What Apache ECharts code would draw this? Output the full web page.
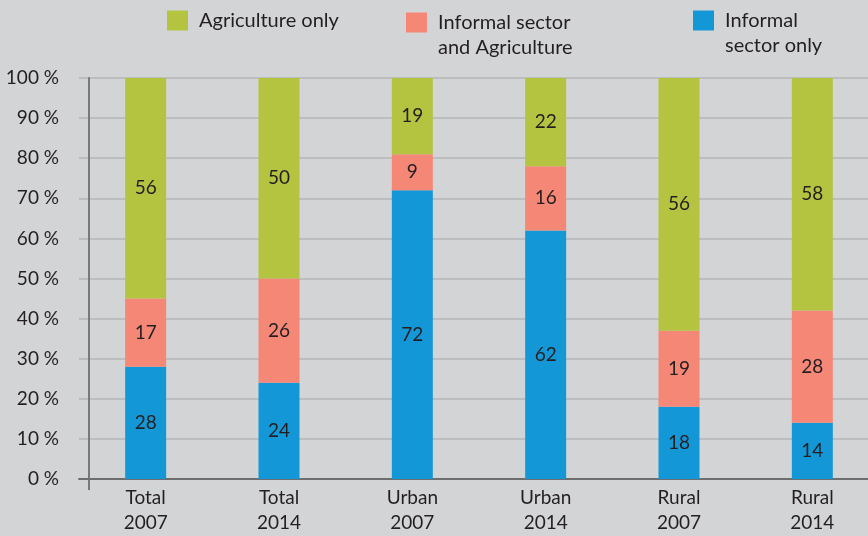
<!DOCTYPE html>
<html>
<head>
<meta charset="utf-8">
<script src="https://cdn.jsdelivr.net/npm/echarts@6/dist/echarts.min.js"></script>
<style>
  html, body { margin: 0; padding: 0; background: #d3d4d6; }
  #chart { width: 868px; height: 536px; }
</style>
</head>
<body>
<div id="chart"></div>
<script>
// categories (two-line labels)
const categories = ["Total\n2007", "Total\n2014", "Urban\n2007", "Urban\n2014", "Rural\n2007", "Rural\n2014"];

// printed values (%)
const informalOnly = [28, 24, 72, 62, 18, 14];
const informalAgri = [17, 26, 9, 16, 19, 28];
const agricultureOnly = [56, 50, 19, 22, 56, 58];
// green segment as drawn (each bar is filled up to 100 %)
const agricultureBar = [55, 50, 19, 22, 63, 58];

const yTicks = [0, 10, 20, 30, 40, 50, 60, 70, 80, 90, 100];

const textColor = "#231f20";
const font = "Lato";

const chart = echarts.init(document.getElementById("chart"));

const segLabel = (values) => ({
  show: true,
  position: "inside",
  color: textColor,
  fontFamily: font,
  fontSize: 19,
  formatter: (p) => values[p.dataIndex],
});

// square icon at the top-left of the item box, invisible dot sets the box size
const iconOneLine = "path://M0,0h21v20h-21z M26.99,19.99h0.01v0.01h-0.01z";
const iconTwoLines = "path://M0,0h21v20h-21z M26.99,44.99h0.01v0.01h-0.01z";

const legendItem = (name, left, top, twoLines) => ({
  data: [name],
  left: left,
  top: top,
  padding: 0,
  itemWidth: 27,
  itemHeight: twoLines ? 45 : 20,
  itemGap: 0,
  selectedMode: false,
  icon: twoLines ? iconTwoLines : iconOneLine,
  textStyle: {
    color: textColor,
    fontFamily: font,
    fontSize: 20,
    lineHeight: 25,
  },
});

chart.setOption({
  backgroundColor: "#d3d4d6",
  animation: false,
  legend: [
    legendItem("Agriculture only", 167, 8, false),
    legendItem("Informal sector\nand Agriculture", 406, 10, true),
    legendItem("Informal\nsector only", 693, 8, true),
  ],
  grid: {
    left: 79,
    width: 800,
    top: 78,
    bottom: 57,
    containLabel: false,
    outerBoundsMode: "none",
  },
  xAxis: {
    type: "category",
    data: categories,
    axisLine: { show: true, lineStyle: { color: "#6d6e70", width: 2 } },
    axisTick: { show: false },
    axisLabel: {
      color: textColor,
      fontFamily: font,
      fontSize: 19,
      lineHeight: 25,
      margin: 6,
    },
  },
  yAxis: {
    type: "value",
    min: yTicks[0],
    max: yTicks[yTicks.length - 1],
    interval: 10,
    offset: -10,
    axisLine: { show: true, lineStyle: { color: "#77787a", width: 2 } },
    axisTick: { show: false },
    axisLabel: {
      color: textColor,
      fontFamily: font,
      fontSize: 19,
      margin: 30,
      formatter: "{value} %",
    },
    splitLine: { show: true, lineStyle: { color: "#bcbdbf", width: 2 } },
  },
  series: [
    {
      name: "Informal\nsector only",
      type: "bar",
      stack: "total",
      barWidth: 41,
      data: informalOnly,
      itemStyle: { color: "#1497d6" },
      label: segLabel(informalOnly),
    },
    {
      name: "Informal sector\nand Agriculture",
      type: "bar",
      stack: "total",
      data: informalAgri,
      itemStyle: { color: "#f58777" },
      label: segLabel(informalAgri),
    },
    {
      name: "Agriculture only",
      type: "bar",
      stack: "total",
      data: agricultureBar,
      itemStyle: { color: "#b4c340" },
      label: segLabel(agricultureOnly),
    },
  ],
});

// y axis line continues a little below the x axis
const zeroY = chart.convertToPixel({ yAxisIndex: 0 }, 0);
chart.setOption({
  graphic: [
    {
      type: "line",
      shape: { x1: 89, y1: zeroY, x2: 89, y2: zeroY + 11 },
      style: { stroke: "#77787a", lineWidth: 2 },
      silent: true,
    },
  ],
});
</script>
</body>
</html>
